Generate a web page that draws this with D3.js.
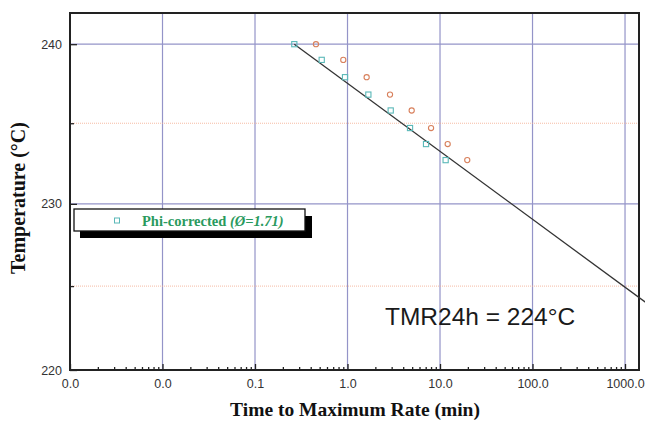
<!DOCTYPE html>
<html>
<head>
<meta charset="utf-8">
<style>
  body { margin: 0; background: #fff; }
</style>
</head>
<body>
<svg width="645" height="424"></svg>
<script src="https://cdn.jsdelivr.net/npm/d3@7"></script>
<script>
// measured points (time in min, temperature in degC)
var sqTime = [0.266, 0.526, 0.94, 1.68, 2.93, 4.74, 7.06, 11.5];
var ciTime = [0.456, 0.90, 1.61, 2.88, 4.94, 8.0, 12.1, 19.7];
var ptTemp = [240, 239, 237.9, 236.8, 235.8, 234.7, 233.7, 232.7];
// fitted line through phi-corrected points, down to TMR24h
var fitTime = [0.266, 1690];
var fitTemp = [240, 224];
var xTicks = [0.001, 0.01, 0.1, 1, 10, 100, 1000];
var yTicks = [220, 230, 240];
var yDotted = [225, 235];

var svg = d3.select("svg"),
    pL = 70, pR = 639, pT = 13, pB = 370;

// inverse absolute temperature, so the fit is a straight line
function inv(t) { return 1 / (t + 273.15); }

var x = d3.scaleLog().domain([0.001, 1416]).range([pL, pR]);
var yInv = d3.scaleLinear().domain([inv(220), inv(242)]).range([pB, pT]);
var y = function(t) { return yInv(inv(t)); };

var minor = [];
xTicks.forEach(function(d) {
  for (var k = 2; k <= 9; k++) if (d * k < 1416) minor.push(d * k);
});

// blue grid
svg.append("g").selectAll("line")
    .data(xTicks.slice(1))
  .enter().append("line")
    .attr("x1", function(d) { return x(d); })
    .attr("x2", function(d) { return x(d); })
    .attr("y1", pT).attr("y2", pB)
    .attr("stroke", "#9494c8").attr("stroke-width", 1.2);
svg.append("g").selectAll("line")
    .data([230, 240])
  .enter().append("line")
    .attr("x1", pL).attr("x2", pR)
    .attr("y1", function(d) { return y(d); })
    .attr("y2", function(d) { return y(d); })
    .attr("stroke", "#9494c8").attr("stroke-width", 1.2);
svg.append("g").selectAll("line")
    .data(yDotted)
  .enter().append("line")
    .attr("x1", pL).attr("x2", pR)
    .attr("y1", function(d) { return y(d); })
    .attr("y2", function(d) { return y(d); })
    .attr("stroke", "#f2aa8c").attr("stroke-width", 0.8)
    .attr("stroke-dasharray", "1,1");

// axes
svg.append("g")
    .attr("transform", "translate(0," + pB + ")")
    .call(d3.axisBottom(x).tickValues(xTicks).tickSize(-6).tickPadding(9)
      .tickFormat(d3.format(".1f")));
svg.append("g")
    .attr("transform", "translate(0," + pB + ")")
    .call(d3.axisBottom(x).tickValues(minor).tickSize(-3).tickFormat(""));
svg.append("g")
    .attr("transform", "translate(" + pL + ",0)")
    .call(d3.axisLeft(yInv).tickValues(yTicks.map(inv)).tickSize(-7).tickPadding(8)
      .tickFormat(function(d) { return d3.format(".0f")(1 / d - 273.15); }));
svg.append("g")
    .attr("transform", "translate(" + pL + ",0)")
    .call(d3.axisLeft(yInv).tickValues(yDotted.map(inv)).tickSize(-4).tickFormat(""));
svg.selectAll(".domain").remove();
svg.selectAll(".tick line").attr("stroke", "#222").attr("stroke-width", 1.3);
svg.selectAll(".tick text")
    .style("font-family", "Liberation Sans, Arial, sans-serif")
    .style("font-size", "12.5px")
    .attr("fill", "#333");

// frame
svg.append("rect")
    .attr("x", pL).attr("y", pT)
    .attr("width", pR - pL).attr("height", pB - pT)
    .attr("fill", "none").attr("stroke", "#222").attr("stroke-width", 2);

// fit line
var line = d3.line()
    .x(function(d) { return x(d[0]); })
    .y(function(d) { return y(d[1]); });
svg.append("path")
    .attr("d", line(d3.zip(fitTime, fitTemp)))
    .attr("fill", "none").attr("stroke", "#333").attr("stroke-width", 1.3);

// points
svg.append("g").selectAll("circle")
    .data(d3.zip(ciTime, ptTemp))
  .enter().append("circle")
    .attr("cx", function(d) { return x(d[0]); })
    .attr("cy", function(d) { return y(d[1]); })
    .attr("r", 2.6)
    .attr("fill", "none").attr("stroke", "#d8805c").attr("stroke-width", 1.1);
svg.append("g").selectAll("rect")
    .data(d3.zip(sqTime, ptTemp))
  .enter().append("rect")
    .attr("x", function(d) { return x(d[0]) - 2.6; })
    .attr("y", function(d) { return y(d[1]) - 2.6; })
    .attr("width", 5.2).attr("height", 5.2)
    .attr("fill", "none").attr("stroke", "#5ab8b8").attr("stroke-width", 1.1);

// legend
var lg = svg.append("g");
lg.append("rect").attr("x", 80).attr("y", 216).attr("width", 232).attr("height", 22).attr("fill", "#000");
lg.append("rect").attr("x", 74).attr("y", 209).attr("width", 231).attr("height", 22)
    .attr("fill", "#fff").attr("stroke", "#111").attr("stroke-width", 1.3);
lg.append("rect").attr("x", 114.5).attr("y", 218).attr("width", 5).attr("height", 5)
    .attr("fill", "none").attr("stroke", "#5ab8b8").attr("stroke-width", 1);
var lt = lg.append("text")
    .attr("x", 142).attr("y", 225.5)
    .style("font-family", "Liberation Serif, Times New Roman, serif")
    .style("font-size", "14.5px")
    .style("font-weight", "bold")
    .attr("fill", "#2a9a5e");
lt.append("tspan").text("Phi-corrected ");
lt.append("tspan").style("font-style", "italic").text("(\u00D8=1.71)");

// annotation
svg.append("text")
    .attr("x", 385).attr("y", 325)
    .style("font-family", "Liberation Sans, Arial, sans-serif")
    .style("font-size", "24.5px")
    .attr("fill", "#1a1a1a")
    .text("TMR24h = 224\u00B0C");

// axis titles
svg.append("text")
    .attr("x", 355).attr("y", 416)
    .style("text-anchor", "middle")
    .style("font-family", "Liberation Serif, Times New Roman, serif")
    .style("font-size", "19.5px").style("font-weight", "bold")
    .attr("fill", "#111")
    .text("Time to Maximum Rate (min)");
svg.append("text")
    .attr("transform", "translate(25,198) rotate(-90)")
    .style("text-anchor", "middle")
    .style("font-family", "Liberation Serif, Times New Roman, serif")
    .style("font-size", "20px").style("font-weight", "bold")
    .attr("fill", "#111")
    .text("Temperature (\u00B0C)");
</script>
</body>
</html>
